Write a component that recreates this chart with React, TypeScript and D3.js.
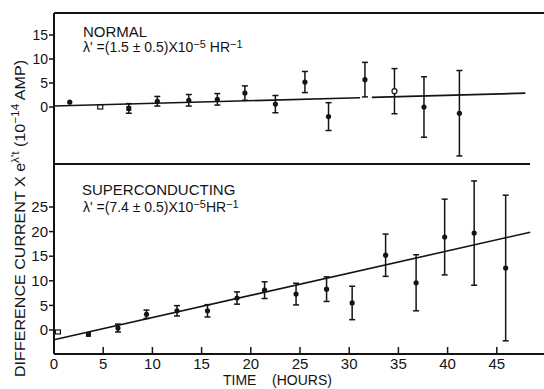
import React from "react";
import * as d3 from "d3";

// Normal sample (top panel)
const normalTime = [1.6, 4.7, 7.6, 10.5, 13.7, 16.6, 19.4, 22.5, 25.5, 27.9, 31.6, 34.6, 37.6, 41.2];
const normalValue = [1.0, 0.0, -0.3, 1.2, 1.4, 1.6, 2.9, 0.6, 5.2, -2.0, 5.7, 3.3, 0.0, -1.3];
const normalError = [0, 0, 1.0, 1.0, 1.2, 1.2, 1.5, 1.8, 2.2, 2.9, 3.6, 4.7, 6.3, 8.9];
const normalMarker = ["dot", "open-square", "square", "dot", "dot", "dot", "dot", "dot", "dot", "dot", "dot", "open-circle", "dot", "dot"];
// fitted line, drawn in two spans (gap near 31.6 h)
const normalFit = { intercept: 0.2, slope: 0.056 };
const normalFitSpans = [[0, 31.1], [32.3, 47.9]];

// Superconducting sample (bottom panel)
const scTime = [0.4, 3.5, 6.5, 9.4, 12.5, 15.6, 18.6, 21.4, 24.6, 27.7, 30.3, 33.7, 36.8, 39.7, 42.7, 45.9];
const scValue = [-0.4, -0.9, 0.4, 3.2, 3.9, 3.9, 6.5, 8.1, 7.3, 8.3, 5.5, 15.2, 9.6, 18.9, 19.7, 12.6];
const scError = [0, 0, 0.8, 0.85, 1.05, 1.25, 1.25, 1.7, 2.2, 2.5, 3.4, 4.3, 5.7, 7.7, 10.6, 14.8];
const scMarker = ["open-square", "square", "dot", "dot", "dot", "dot", "dot", "dot", "dot", "dot", "dot", "dot", "dot", "dot", "dot", "dot"];
const scFit = { intercept: -2.0, slope: 0.452 };
const scFitSpans = [[0, 48.4]];

const timeTicks = [0, 5, 10, 15, 20, 25, 30, 35, 40, 45];
const normalTicks = [0, 5, 10, 15];
const scTicks = [0, 5, 10, 15, 20, 25];

const W = 544;
const H = 389;
const font = "'Liberation Sans', Arial, sans-serif";
const ink = "#141414";

const x = d3.scaleLinear().domain([0, 50]).range([54, 546]);
const yTop = d3.scaleLinear().domain([0, 15]).range([107, 35]);
const yBot = d3.scaleLinear().domain([0, 25]).range([330, 207]);

const frameTop = 13;
const divider = 164;
const axisY = 354;

function Marker({ kind, cx, cy }: { kind: string; cx: number; cy: number }) {
  if (kind === "open-square")
    return <rect x={cx - 2.5} y={cy - 2} width={5} height={4} fill="white" stroke={ink} strokeWidth={1.2} />;
  if (kind === "square")
    return <rect x={cx - 2.5} y={cy - 2.5} width={5} height={5} fill={ink} />;
  if (kind === "open-circle")
    return <circle cx={cx} cy={cy} r={2.5} fill="white" stroke={ink} strokeWidth={1.2} />;
  return <circle cx={cx} cy={cy} r={2.6} fill={ink} />;
}

function Panel({
  times, values, errors, markers, fit, spans, y, ticks, fontSize,
}: {
  times: number[]; values: number[]; errors: number[]; markers: string[];
  fit: { intercept: number; slope: number }; spans: number[][];
  y: d3.ScaleLinear<number, number>; ticks: number[]; fontSize: number;
}) {
  const line = d3.line<number>().x((t) => x(t)).y((t) => y(fit.intercept + fit.slope * t));
  return (
    <g>
      {spans.map((s, i) => (
        <path key={i} d={line(s) || ""} fill="none" stroke={ink} strokeWidth={1.6} />
      ))}
      {times.map((t, i) => {
        const cx = x(t);
        const e = errors[i];
        const y1 = y(values[i] + e);
        const y2 = y(values[i] - e);
        return (
          <g key={i}>
            {e > 0 && (
              <g stroke={ink} strokeWidth={1.5}>
                <line x1={cx} x2={cx} y1={y1} y2={y2} />
                <line x1={cx - 3} x2={cx + 3} y1={y1} y2={y1} />
                <line x1={cx - 3} x2={cx + 3} y1={y2} y2={y2} />
              </g>
            )}
            <Marker kind={markers[i]} cx={cx} cy={y(values[i])} />
          </g>
        );
      })}
      {ticks.map((v) => (
        <g key={v}>
          <line x1={x(0) - 5} x2={x(0)} y1={y(v)} y2={y(v)} stroke={ink} strokeWidth={1.5} />
          <text x={x(0) - 6} y={y(v)} dy="0.35em" textAnchor="end" fontSize={fontSize} fontFamily={font} fill={ink}>
            {v}
          </text>
        </g>
      ))}
    </g>
  );
}

export default function App() {
  return (
    <svg width={W} height={H} style={{ position: "absolute", left: 0, top: 0, background: "white" }}>
      {/* frame */}
      <g stroke={ink} strokeWidth={2} fill="none">
        <line x1={x(0)} x2={W} y1={frameTop} y2={frameTop} />
        <line x1={x(0)} x2={x(0)} y1={frameTop} y2={axisY} />
        <line x1={x(0)} x2={530} y1={divider} y2={divider} />
        <line x1={x(0)} x2={W} y1={axisY} y2={axisY} />
      </g>

      <Panel times={normalTime} values={normalValue} errors={normalError} markers={normalMarker}
        fit={normalFit} spans={normalFitSpans} y={yTop} ticks={normalTicks} fontSize={14} />
      <Panel times={scTime} values={scValue} errors={scError} markers={scMarker}
        fit={scFit} spans={scFitSpans} y={yBot} ticks={scTicks} fontSize={15} />

      {/* time axis */}
      {timeTicks.map((t) => (
        <g key={t}>
          <line x1={x(t)} x2={x(t)} y1={axisY} y2={axisY - 7} stroke={ink} strokeWidth={1.5} />
          <text x={x(t)} y={369} textAnchor="middle" fontSize={15} fontFamily={font} fill={ink}>
            {t}
          </text>
        </g>
      ))}
      <text x={223} y={385} fontSize={14} fontFamily={font} fill={ink}>TIME</text>
      <text x={272} y={385} fontSize={14} fontFamily={font} fill={ink}>(HOURS)</text>

      {/* y title */}
      <text transform="translate(25,377) rotate(-90)" fontSize={15} fontFamily={font} fill={ink}
        textLength={317} lengthAdjust="spacingAndGlyphs">
        DIFFERENCE CURRENT X e
        <tspan dy={-6} fontSize={11}>λ't</tspan>
        <tspan dy={6}>{"  (10"}</tspan>
        <tspan dy={-6} fontSize={11}>−14</tspan>
        <tspan dy={6}> AMP)</tspan>
      </text>

      {/* annotations */}
      <g fontFamily={font} fill={ink}>
        <text x={83} y={37} fontSize={15}>NORMAL</text>
        <text x={83} y={52} fontSize={14}>
          λ' =(1.5 ± 0.5)X10<tspan dy={-4} fontSize={11}>−5</tspan>
          <tspan dy={4}> HR</tspan>
          <tspan dy={-4} fontSize={11}>−1</tspan>
        </text>
        <text x={82} y={195} fontSize={15}>SUPERCONDUCTING</text>
        <text x={83} y={212} fontSize={14}>
          λ' =(7.4 ± 0.5)X10<tspan dy={-4} fontSize={11}>−5</tspan>
          <tspan dy={4}>HR</tspan>
          <tspan dy={-4} fontSize={11}>−1</tspan>
        </text>
      </g>
    </svg>
  );
}
